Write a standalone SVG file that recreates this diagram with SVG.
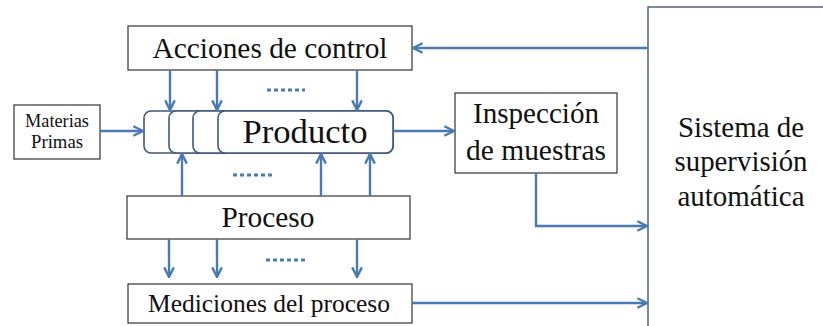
<svg xmlns="http://www.w3.org/2000/svg" width="823" height="326" viewBox="0 0 823 326" font-family="Liberation Serif, serif">
<defs>
<style>
.box{fill:#fff;stroke:#333;stroke-width:1.2}
.pb{fill:#fff;stroke:#41597a;stroke-width:1.6}
.t{fill:#111;text-anchor:middle}
.c{stroke:#4a7ab5;stroke-width:2.4;fill:none}
.dots{stroke:#4a7ab5;stroke-width:3;stroke-dasharray:4 3}
</style>
<marker id="ah" viewBox="0 0 10 10" refX="9" refY="5" markerWidth="5" markerHeight="5" orient="auto" markerUnits="strokeWidth">
<path d="M1,1 L9,5 L1,9" fill="none" stroke="#4a7ab5" stroke-width="2"/>
</marker>
</defs>
<rect width="823" height="326" fill="#fff"/>
<g id="sistema">
<rect x="648" y="7" width="190" height="330" fill="#fff" stroke="#41597a" stroke-width="1.4"/>
<text class="t" font-family="Liberation Serif" x="741" y="137" font-size="29" textLength="126" lengthAdjust="spacingAndGlyphs">Sistema de</text>
<text class="t" font-family="Liberation Serif" x="741" y="171" font-size="29" textLength="133" lengthAdjust="spacingAndGlyphs">supervisión</text>
<text class="t" font-family="Liberation Serif" x="741" y="206" font-size="29" textLength="127" lengthAdjust="spacingAndGlyphs">automática</text>
</g>
<g id="acciones">
<rect class="box" x="128" y="26" width="284" height="44"/>
<text class="t" font-family="Liberation Serif" x="270" y="58" font-size="29.5" textLength="235" lengthAdjust="spacingAndGlyphs">Acciones de control</text>
</g>
<g id="materias">
<rect class="box" x="14" y="105" width="86" height="54"/>
<text class="t" font-family="Liberation Serif" x="57" y="127" font-size="18" textLength="64" lengthAdjust="spacingAndGlyphs">Materias</text>
<text class="t" font-family="Liberation Serif" x="57" y="148" font-size="18" textLength="52" lengthAdjust="spacingAndGlyphs">Primas</text>
</g>
<g id="producto">
<rect class="pb" x="144" y="111" width="249" height="42" rx="7"/>
<rect class="pb" x="169" y="111" width="224" height="42" rx="7"/>
<rect class="pb" x="193" y="111" width="200" height="42" rx="7"/>
<rect class="pb" x="218" y="111" width="175" height="42" rx="7"/>
<text class="t" font-family="Liberation Serif" x="305" y="143" font-size="33" textLength="125" lengthAdjust="spacingAndGlyphs">Producto</text>
</g>
<g id="inspeccion">
<rect class="box" x="455" y="93" width="162" height="80"/>
<text class="t" font-family="Liberation Serif" x="536" y="123" font-size="29" textLength="126" lengthAdjust="spacingAndGlyphs">Inspección</text>
<text class="t" font-family="Liberation Serif" x="536" y="160" font-size="29" textLength="140" lengthAdjust="spacingAndGlyphs">de muestras</text>
</g>
<g id="proceso">
<rect class="box" x="127" y="196" width="283" height="43"/>
<text class="t" font-family="Liberation Serif" x="268" y="227" font-size="29" textLength="93" lengthAdjust="spacingAndGlyphs">Proceso</text>
</g>
<g id="mediciones">
<rect class="box" x="128" y="284" width="284" height="39"/>
<text class="t" font-family="Liberation Serif" x="269" y="312" font-size="25.5" textLength="242" lengthAdjust="spacingAndGlyphs">Mediciones del proceso</text>
</g>
<g id="connectors">
<line class="c" x1="170" y1="70" x2="170" y2="110" marker-end="url(#ah)"/>
<line class="c" x1="217" y1="70" x2="217" y2="110" marker-end="url(#ah)"/>
<line class="c" x1="357" y1="70" x2="357" y2="110" marker-end="url(#ah)"/>
<line class="dots" x1="267" y1="90" x2="305" y2="90"/>
<line class="c" x1="100" y1="131" x2="143" y2="131" marker-end="url(#ah)"/>
<line class="c" x1="393" y1="131" x2="454" y2="131" marker-end="url(#ah)"/>
<line class="c" x1="182" y1="196" x2="182" y2="154" marker-end="url(#ah)"/>
<line class="c" x1="321" y1="196" x2="321" y2="154" marker-end="url(#ah)"/>
<line class="c" x1="370" y1="196" x2="370" y2="154" marker-end="url(#ah)"/>
<line class="dots" x1="233" y1="175" x2="273" y2="175"/>
<line class="c" x1="169" y1="239" x2="169" y2="277" marker-end="url(#ah)"/>
<line class="c" x1="217" y1="239" x2="217" y2="277" marker-end="url(#ah)"/>
<line class="c" x1="357" y1="239" x2="357" y2="277" marker-end="url(#ah)"/>
<line class="dots" x1="266" y1="260" x2="305" y2="260"/>
<line class="c" x1="648" y1="48" x2="413" y2="48" marker-end="url(#ah)"/>
<polyline class="c" points="536,173 536,226 647,226" marker-end="url(#ah)"/>
<line class="c" x1="412" y1="303" x2="647" y2="303" marker-end="url(#ah)"/>
</g>
</svg>
